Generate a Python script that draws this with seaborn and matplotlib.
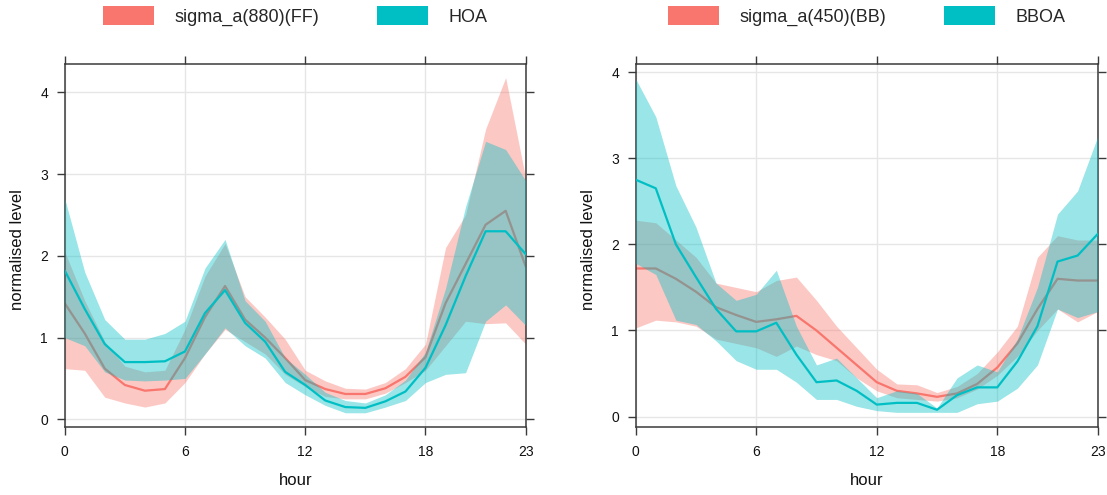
import matplotlib
matplotlib.use("Agg")
import matplotlib.pyplot as plt
from matplotlib.patches import Patch
import seaborn as sns
import pandas as pd
import numpy as np

# ---------------- data ----------------
hours = list(range(24))

# left panel: sigma_a(880)(FF) and HOA
ff_mean = [1.42, 1.05, 0.62, 0.42, 0.35, 0.37, 0.75, 1.25, 1.63, 1.22, 1.00, 0.75,
           0.48, 0.37, 0.31, 0.31, 0.38, 0.52, 0.76, 1.42, 1.90, 2.38, 2.55, 1.87]
ff_lo = [0.62, 0.60, 0.27, 0.20, 0.15, 0.20, 0.45, 0.80, 1.10, 0.95, 0.80, 0.55,
         0.40, 0.28, 0.25, 0.25, 0.32, 0.45, 0.60, 0.90, 1.20, 1.17, 1.18, 0.92]
ff_hi = [2.05, 1.45, 0.95, 0.65, 0.58, 0.60, 1.10, 1.75, 2.15, 1.50, 1.25, 0.98,
         0.60, 0.47, 0.38, 0.37, 0.45, 0.62, 0.92, 2.10, 2.50, 3.55, 4.18, 2.95]

hoa_mean = [1.82, 1.35, 0.92, 0.70, 0.70, 0.71, 0.83, 1.30, 1.58, 1.18, 0.95, 0.58,
            0.42, 0.23, 0.15, 0.14, 0.22, 0.34, 0.63, 1.15, 1.75, 2.30, 2.30, 2.02]
hoa_lo = [1.00, 0.90, 0.58, 0.48, 0.47, 0.48, 0.50, 0.80, 1.12, 0.90, 0.75, 0.45,
          0.30, 0.17, 0.08, 0.08, 0.15, 0.23, 0.45, 0.55, 0.57, 1.20, 1.40, 1.15]
hoa_hi = [2.70, 1.80, 1.22, 0.98, 0.98, 1.05, 1.20, 1.85, 2.20, 1.45, 1.20, 0.75,
          0.55, 0.33, 0.23, 0.20, 0.30, 0.48, 0.82, 1.60, 2.60, 3.40, 3.30, 2.92]

# right panel: sigma_a(450)(BB) and BBOA
bb_mean = [1.72, 1.72, 1.60, 1.45, 1.27, 1.18, 1.10, 1.13, 1.17, 1.00, 0.80, 0.60,
           0.40, 0.30, 0.27, 0.23, 0.27, 0.38, 0.57, 0.85, 1.25, 1.60, 1.58, 1.58]
bb_lo = [1.03, 1.12, 1.10, 1.05, 0.90, 0.85, 0.80, 0.70, 0.82, 0.72, 0.65, 0.45,
         0.30, 0.22, 0.20, 0.18, 0.22, 0.32, 0.48, 0.70, 1.00, 1.25, 1.10, 1.22]
bb_hi = [2.28, 2.25, 2.05, 1.85, 1.55, 1.50, 1.45, 1.58, 1.62, 1.35, 1.05, 0.80,
         0.55, 0.38, 0.37, 0.28, 0.35, 0.50, 0.75, 1.05, 1.85, 2.10, 2.05, 2.05]

bboa_mean = [2.75, 2.65, 2.00, 1.62, 1.25, 0.99, 0.99, 1.09, 0.72, 0.40, 0.42, 0.30,
             0.14, 0.16, 0.16, 0.08, 0.25, 0.34, 0.34, 0.64, 1.05, 1.80, 1.87, 2.12]
bboa_lo = [1.78, 1.65, 1.12, 1.07, 0.88, 0.65, 0.55, 0.55, 0.40, 0.20, 0.20, 0.12,
           0.07, 0.05, 0.05, 0.05, 0.05, 0.15, 0.18, 0.33, 0.60, 1.25, 1.15, 1.22]
bboa_hi = [3.92, 3.48, 2.68, 2.20, 1.55, 1.35, 1.42, 1.70, 1.05, 0.60, 0.68, 0.45,
           0.22, 0.30, 0.27, 0.10, 0.45, 0.60, 0.52, 0.90, 1.50, 2.35, 2.62, 3.25]

left_names = ["sigma_a(880)(FF)", "HOA"]
right_names = ["sigma_a(450)(BB)", "BBOA"]
x_ticks = [0, 6, 12, 18, 23]
y_ticks = [0, 1, 2, 3, 4]

# ---------------- style ----------------
sns.set_style("white")
plt.rcParams["font.family"] = ["Liberation Sans", "DejaVu Sans"]

RED = "#F8766D"
CYAN = "#00BFC4"
EDGE = "#3a3a3a"

fig = plt.figure(figsize=(11.07, 4.95), dpi=100)
axL = fig.add_axes([64.7 / 1107, (495 - 427) / 495, 461 / 1107, 363 / 495])
axR = fig.add_axes([635.7 / 1107, (495 - 427) / 495, 462 / 1107, 363 / 495])


def draw_panel(ax, names, m1, lo1, hi1, m2, lo2, hi2, ylim):
    df = pd.DataFrame({"hour": hours, "a": m1, "b": m2})
    for t in y_ticks:
        ax.axhline(t, color="#e6e6e6", lw=1.0, zorder=0)
    for t in x_ticks:
        ax.axvline(t, color="#e6e6e6", lw=1.0, zorder=0)
    ax.fill_between(hours, lo1, hi1, color=RED, alpha=0.4, lw=0, zorder=1)
    sns.lineplot(data=df, x="hour", y="a", color=RED, lw=1.6, ax=ax, zorder=2)
    ax.fill_between(hours, lo2, hi2, color=CYAN, alpha=0.4, lw=0, zorder=3)
    sns.lineplot(data=df, x="hour", y="b", color=CYAN, lw=1.6, ax=ax, zorder=4)

    ax.set_xlim(0, 23)
    ax.set_ylim(*ylim)
    ax.set_xticks(x_ticks)
    ax.set_yticks(y_ticks)
    ax.set_xticklabels([str(t) for t in x_ticks])
    ax.set_yticklabels([str(t) for t in y_ticks])
    for s in ax.spines.values():
        s.set_visible(True)
        s.set_color(EDGE)
        s.set_linewidth(1.1)
    ax.tick_params(axis="both", which="both", direction="out", length=6,
                   width=1.0, color=EDGE, labelsize=10, labelcolor="#111111",
                   top=True, right=True, bottom=True, left=True,
                   labeltop=False, labelright=False)
    ax.tick_params(axis="x", pad=7)
    ax.tick_params(axis="y", pad=6)
    ax.set_xlabel("hour", fontsize=12, color="#111111")
    ax.set_ylabel("normalised level", fontsize=12, color="#111111")
    ax.xaxis.set_label_coords(0.5, -0.128)
    ax.yaxis.set_label_coords(-0.086, 0.488)

    handles = [Patch(facecolor=RED, edgecolor="none"),
               Patch(facecolor=CYAN, edgecolor="none")]
    ax.legend(handles, names, loc="center", bbox_to_anchor=(0.5, 1.132),
              ncol=2, frameon=False, fontsize=13, handlelength=2.82,
              handleheight=1.22, handletextpad=1.16, columnspacing=3.16,
              borderpad=0, borderaxespad=0)


draw_panel(axL, left_names, ff_mean, ff_lo, ff_hi, hoa_mean, hoa_lo, hoa_hi,
           (-0.094, 4.346))
draw_panel(axR, right_names, bb_mean, bb_lo, bb_hi, bboa_mean, bboa_lo, bboa_hi,
           (-0.12, 4.093))

fig.savefig("out.png", dpi=100)
